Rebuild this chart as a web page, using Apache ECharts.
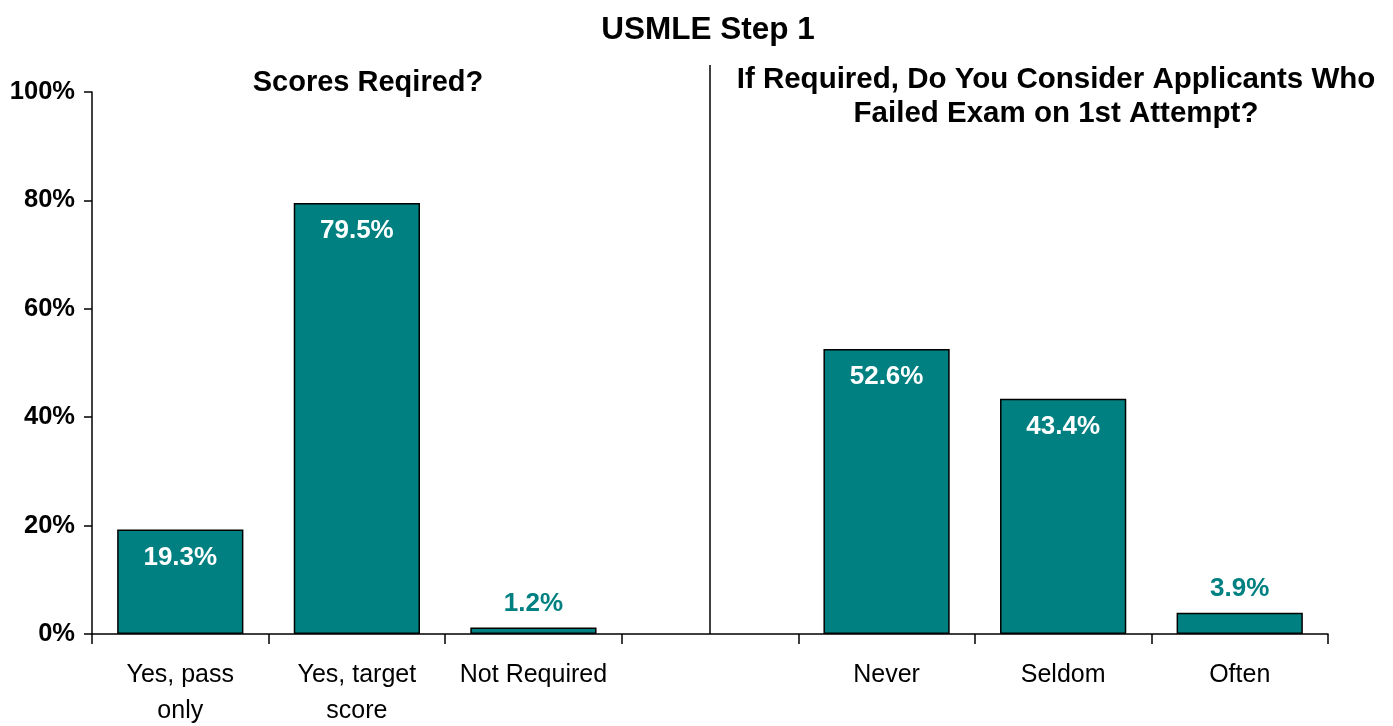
<!DOCTYPE html>
<html>
<head>
<meta charset="utf-8">
<script src="https://cdn.jsdelivr.net/npm/echarts@6/dist/echarts.min.js"></script>
<style>
html,body{margin:0;padding:0;background:#fff;}
#main{width:1393px;height:726px;}
</style>
</head>
<body>
<div id="main"></div>
<script>
// data
var categories = ['Yes, pass\nonly', 'Yes, target\nscore', 'Not Required', '', 'Never', 'Seldom', 'Often'];
var values = [19.3, 79.5, 1.2, null, 52.6, 43.4, 3.9];
var yTicks = [0, 20, 40, 60, 80, 100];
var dividerAt = 3; // empty category that separates the two questions

var teal = '#008080';
var font = '"Liberation Sans", Arial, sans-serif';

var myChart = echarts.init(document.getElementById('main'));

var barData = values.map(function (v) {
    if (v === null) return null;
    var small = v < 10;
    return {
        value: v,
        label: {
            position: small ? 'top' : 'insideTop',
            distance: small ? 11 : 15,
            color: small ? teal : '#fff'
        }
    };
});

var option = {
    animation: false,
    title: [
        { text: 'USMLE Step 1', left: 703, top: 9, textAlign: 'center',
          textStyle: { fontFamily: font, fontSize: 31.5, fontWeight: 'bold', color: '#000' } },
        { text: 'Scores Reqired?', left: 363, top: 63, textAlign: 'center',
          textStyle: { fontFamily: font, fontSize: 29, fontWeight: 'bold', color: '#000' } },
        { text: 'If Required, Do You Consider Applicants Who\nFailed Exam on 1st Attempt?', left: 1051, top: 58, textAlign: 'center',
          textStyle: { fontFamily: font, fontSize: 29.5, fontWeight: 'bold', color: '#000', lineHeight: 34, align: 'center' } }
    ],
    grid: { left: 92, right: 65, top: 92, bottom: 92, outerBoundsMode: 'none' },
    xAxis: {
        type: 'category',
        data: categories,
        axisLine: { lineStyle: { color: '#000', width: 1.5 } },
        axisTick: { show: true, interval: 0, length: 10, lineStyle: { color: '#000', width: 1.5 } },
        axisLabel: { interval: 0, margin: 23, color: '#000', fontFamily: font, fontSize: 25, lineHeight: 36 }
    },
    yAxis: {
        type: 'value',
        min: yTicks[0],
        max: yTicks[yTicks.length - 1],
        interval: 20,
        splitLine: { show: false },
        axisLine: { show: true, lineStyle: { color: '#000', width: 1.5 } },
        axisTick: { show: true, length: 8, lineStyle: { color: '#000', width: 1.5 } },
        axisLabel: { formatter: '{value}%', margin: 17, color: '#000', fontFamily: font, fontSize: 25.5, fontWeight: 'bold' }
    },
    series: [{
        type: 'bar',
        data: barData,
        barCategoryGap: '28.5%',
        itemStyle: { color: teal, borderColor: '#000', borderWidth: 1.5 },
        label: {
            show: true,
            formatter: function (p) { return p.value.toFixed(1) + '%'; },
            fontFamily: font, fontSize: 26, fontWeight: 'bold'
        }
    }]
};

myChart.setOption(option);

// vertical divider between the two panels
var bottom = myChart.convertToPixel({ xAxisIndex: 0, yAxisIndex: 0 }, [dividerAt, 0]);
myChart.setOption({
    graphic: [{
        type: 'line',
        shape: { x1: bottom[0], y1: 65, x2: bottom[0], y2: bottom[1] },
        style: { stroke: '#000', lineWidth: 1.5 }
    }]
});
</script>
</body>
</html>
